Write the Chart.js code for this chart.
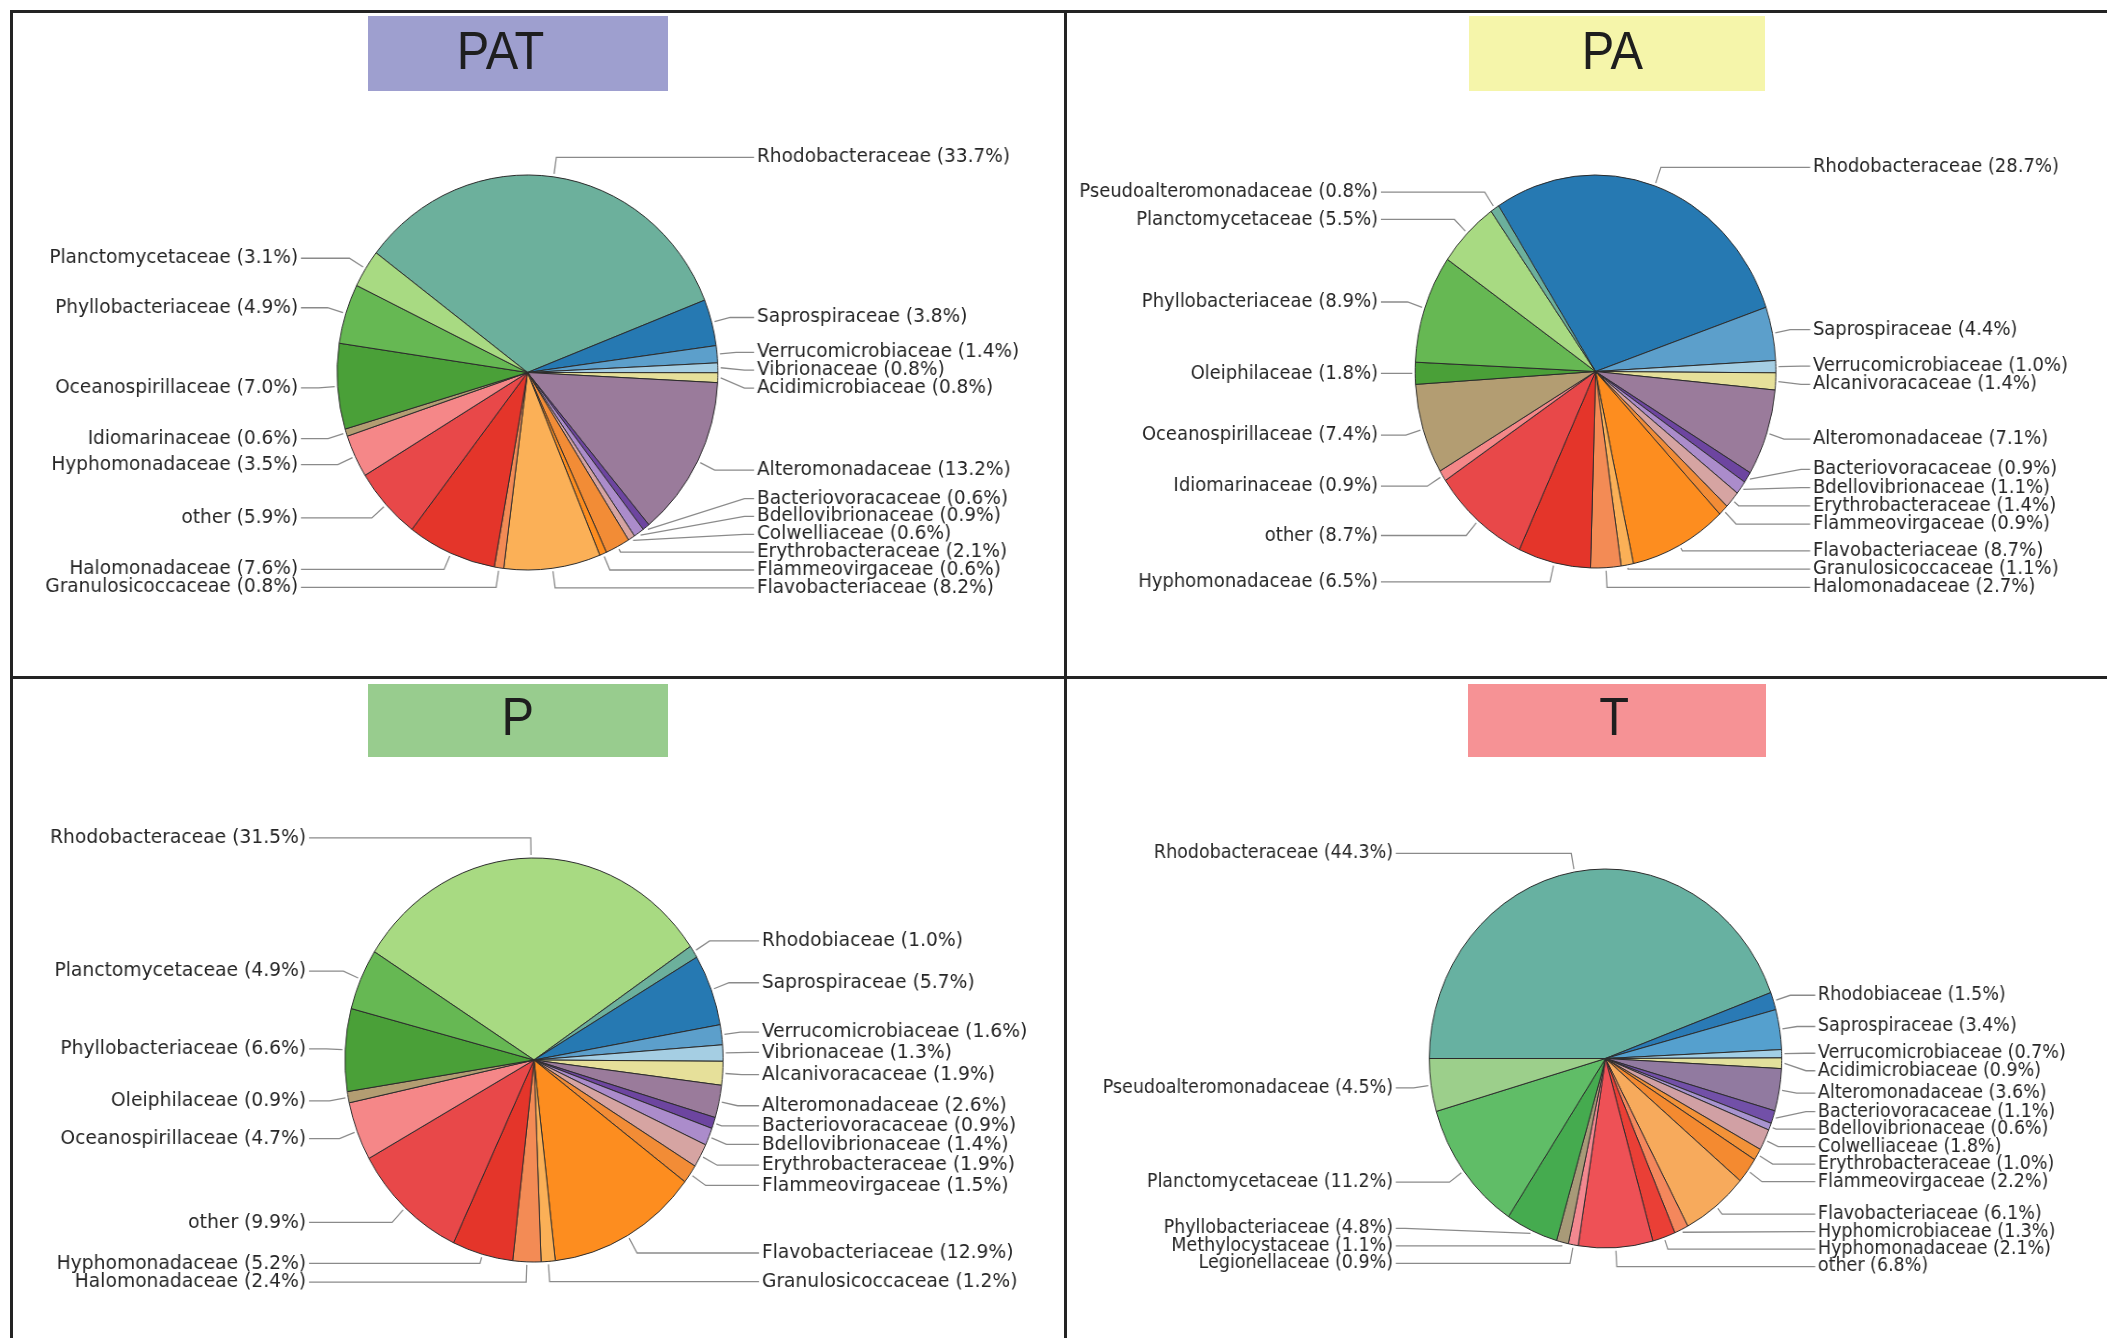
<!DOCTYPE html>
<html>
<head>
<meta charset="utf-8">
<script src="https://cdn.jsdelivr.net/npm/chart.js@4.4.1/dist/chart.umd.min.js"></script>
<style>
  body { margin: 0; background: #fff; }
  #page { position: relative; width: 2107px; height: 1338px; overflow: hidden; background: #fff; }
  .wrap { position: absolute; transform-origin: 0 0; }
  .line { position: absolute; background: #232323; }
  .tbox { position: absolute; display: flex; align-items: center; justify-content: center; }
  .tbox span { font-family: "Liberation Sans", Arial, sans-serif; font-size: 53px; color: #1e1e1e; display: inline-block; }
</style>
</head>
<body>
<div id="page"></div>
<script>
const patNames = ['Rhodobacteraceae', 'Saprospiraceae', 'Verrucomicrobiaceae', 'Vibrionaceae', 'Acidimicrobiaceae',
  'Alteromonadaceae', 'Bacteriovoracaceae', 'Bdellovibrionaceae', 'Colwelliaceae', 'Erythrobacteraceae',
  'Flammeovirgaceae', 'Flavobacteriaceae', 'Granulosicoccaceae', 'Halomonadaceae', 'other',
  'Hyphomonadaceae', 'Idiomarinaceae', 'Oceanospirillaceae', 'Phyllobacteriaceae', 'Planctomycetaceae'];
const patValues = [33.7, 3.8, 1.4, 0.8, 0.8, 13.2, 0.6, 0.9, 0.6, 2.1, 0.6, 8.2, 0.8, 7.6, 5.9, 3.5, 0.6, 7.0, 4.9, 3.1];

const paNames = ['Rhodobacteraceae', 'Saprospiraceae', 'Verrucomicrobiaceae', 'Alcanivoracaceae', 'Alteromonadaceae',
  'Bacteriovoracaceae', 'Bdellovibrionaceae', 'Erythrobacteraceae', 'Flammeovirgaceae', 'Flavobacteriaceae',
  'Granulosicoccaceae', 'Halomonadaceae', 'Hyphomonadaceae', 'other', 'Idiomarinaceae',
  'Oceanospirillaceae', 'Oleiphilaceae', 'Phyllobacteriaceae', 'Planctomycetaceae', 'Pseudoalteromonadaceae'];
const paValues = [28.7, 4.4, 1.0, 1.4, 7.1, 0.9, 1.1, 1.4, 0.9, 8.7, 1.1, 2.7, 6.5, 8.7, 0.9, 7.4, 1.8, 8.9, 5.5, 0.8];

const pNames = ['Rhodobacteraceae', 'Rhodobiaceae', 'Saprospiraceae', 'Verrucomicrobiaceae', 'Vibrionaceae',
  'Alcanivoracaceae', 'Alteromonadaceae', 'Bacteriovoracaceae', 'Bdellovibrionaceae', 'Erythrobacteraceae',
  'Flammeovirgaceae', 'Flavobacteriaceae', 'Granulosicoccaceae', 'Halomonadaceae', 'Hyphomonadaceae',
  'other', 'Oceanospirillaceae', 'Oleiphilaceae', 'Phyllobacteriaceae', 'Planctomycetaceae'];
const pValues = [31.5, 1.0, 5.7, 1.6, 1.3, 1.9, 2.6, 0.9, 1.4, 1.9, 1.5, 12.9, 1.2, 2.4, 5.2, 9.9, 4.7, 0.9, 6.6, 4.9];

const tNames = ['Rhodobacteraceae', 'Rhodobiaceae', 'Saprospiraceae', 'Verrucomicrobiaceae', 'Acidimicrobiaceae',
  'Alteromonadaceae', 'Bacteriovoracaceae', 'Bdellovibrionaceae', 'Colwelliaceae', 'Erythrobacteraceae',
  'Flammeovirgaceae', 'Flavobacteriaceae', 'Hyphomicrobiaceae', 'Hyphomonadaceae', 'other',
  'Legionellaceae', 'Methylocystaceae', 'Phyllobacteriaceae', 'Planctomycetaceae', 'Pseudoalteromonadaceae'];
const tValues = [44.3, 1.5, 3.4, 0.7, 0.9, 3.6, 1.1, 0.6, 1.8, 1.0, 2.2, 6.1, 1.3, 2.1, 6.8, 0.9, 1.1, 4.8, 11.2, 4.5];

const panelTitles = ['PAT', 'PA', 'P', 'T'];

// colores
const palette = ['#a8da82', '#6cb09c', '#2679b2', '#5c9fcb', '#a5cee3', '#e6e09a', '#9a7b9b', '#6d45a0', '#ab8ccb', '#d6a4a2',
  '#f28c36', '#fd8d1f', '#fbb057', '#f38b55', '#e4352a', '#e84849', '#f58788', '#b39d72', '#4aa038', '#66b853'];
const paletteT = ['#9ccf8b', '#67b1a1', '#2a7ab5', '#55a0ce', '#a2cfe6', '#e2e09c', '#917aa0', '#7250a8', '#a894d0', '#d1a0a4',
  '#f39238', '#f48a30', '#f7aa5c', '#f4875c', '#ea3f36', '#ee5156', '#f38890', '#a89a78', '#45ab4f', '#60bd67'];

function shift(pal, off, n) {
  const out = [];
  for (let i = 0; i < n; i++) out.push(pal[(i + off) % pal.length]);
  return out;
}

const panels = [
  { names: patNames, values: patValues, pal: palette, off: 1, qx: 0, qy: 0, qw: 1066, qh: 679,
    sx: 0.964, cx: 527.5, cy: 372.5, r: 197.5, rot: -52.7, fs: 19.2,
    box: [368, 16, 300, 75, '#9e9fcf'], tdx: -17, tdy: -3 },
  { names: paNames, values: paValues, pal: palette, off: 2, qx: 1066, qy: 0, qw: 1041, qh: 679,
    sx: 0.918, cx: 1595.5, cy: 371.5, r: 196.5, rot: -32.5, fs: 19.6,
    box: [1469, 16, 296, 75, '#f5f5aa'], tdx: -5, tdy: -3 },
  { names: pNames, values: pValues, pal: palette, off: 0, qx: 0, qy: 679, qw: 1066, qh: 659,
    sx: 0.936, cx: 534, cy: 1060, r: 202, rot: -57.6, fs: 20,
    box: [368, 684, 300, 73, '#98cc8e'], tdx: 0, tdy: -4 },
  { names: tNames, values: tValues, pal: paletteT, off: 1, qx: 1066, qy: 679, qw: 1041, qh: 659,
    sx: 0.93, cx: 1605.5, cy: 1058.5, r: 189.5, rot: -90, fs: 18.8,
    box: [1468, 684, 298, 73, '#f69295'], tdx: -3, tdy: -4 }
];

// etiquetas afuera con lineas guia
const outLabels = {
  id: 'outLabels',
  afterDraw(chart, args, opts) {
    const ctx = chart.ctx;
    const meta = chart.getDatasetMeta(0);
    const names = chart.data.labels;
    const vals = chart.data.datasets[0].data;
    const fs = opts.fontSize;
    const gap = fs * 0.93;

    const items = meta.data.map((arc, i) => {
      const mid = (arc.startAngle + arc.endAngle) / 2;
      const R = arc.outerRadius;
      return {
        i, mid, R, cx: arc.x, cy: arc.y,
        side: Math.cos(mid) >= 0 ? 1 : -1,
        y: arc.y + 1.1 * R * Math.sin(mid)
      };
    });

    // mitad de arriba se empuja hacia abajo, mitad de abajo hacia arriba
    [1, -1].forEach(side => {
      const list = items.filter(d => d.side === side).sort((a, b) => a.y - b.y);
      if (!list.length) return;
      const cy = list[0].cy;
      const up = list.filter(d => d.y < cy);
      const lo = list.filter(d => d.y >= cy);
      for (let k = 1; k < up.length; k++) up[k].y = Math.max(up[k].y, up[k - 1].y + gap);
      for (let k = lo.length - 2; k >= 0; k--) lo[k].y = Math.min(lo[k].y, lo[k + 1].y - gap);
      const all = up.concat(lo);
      for (let k = 1; k < all.length; k++) all[k].y = Math.max(all[k].y, all[k - 1].y + gap);
    });

    ctx.save();
    ctx.strokeStyle = '#8a8a8a';
    ctx.lineWidth = 1.3;
    ctx.font = fs + 'px "DejaVu Sans"';
    ctx.fillStyle = '#262626';
    ctx.textBaseline = 'middle';
    items.forEach(d => {
      const c = Math.cos(d.mid), s = Math.sin(d.mid);
      const ax = d.cx + d.side * 1.19 * d.R;
      const sx = d.cx + c * (d.R + 3), sy = d.cy + s * (d.R + 3);
      ctx.beginPath();
      ctx.moveTo(sx, sy);
      let ok = false;
      if (Math.abs(s) > 0.05) {
        const t = (d.y - sy) / s;
        const kx = sx + t * c;
        if (t >= 0 && (ax - kx) * d.side > 6) {
          ctx.lineTo(kx, d.y);
          ok = true;
        }
      }
      if (!ok) ctx.lineTo(ax - d.side * 10, d.y);
      ctx.lineTo(ax, d.y);
      ctx.stroke();
      ctx.textAlign = d.side > 0 ? 'left' : 'right';
      ctx.fillText(names[d.i] + ' (' + vals[d.i].toFixed(1) + '%)', ax + d.side * 3, d.y);
    });
    ctx.restore();
  }
};

const page = document.getElementById('page');

panels.forEach((p, n) => {
  const W = Math.round(p.qw / p.sx);
  const H = p.qh;
  const cxu = (p.cx - p.qx) / p.sx;
  const cyu = p.cy - p.qy;

  const wrap = document.createElement('div');
  wrap.className = 'wrap';
  wrap.style.left = p.qx + 'px';
  wrap.style.top = p.qy + 'px';
  wrap.style.width = W + 'px';
  wrap.style.height = H + 'px';
  wrap.style.transform = 'scaleX(' + p.sx + ')';
  const canvas = document.createElement('canvas');
  canvas.width = W;
  canvas.height = H;
  wrap.appendChild(canvas);
  page.appendChild(wrap);

  new Chart(canvas, {
    type: 'pie',
    data: {
      labels: p.names,
      datasets: [{
        data: p.values,
        backgroundColor: shift(p.pal, p.off, p.values.length),
        borderColor: '#2b2b2b',
        borderWidth: 1,
        hoverOffset: 0
      }]
    },
    options: {
      responsive: false,
      animation: false,
      events: [],
      rotation: p.rot,
      radius: p.r,
      layout: {
        padding: {
          left: cxu - p.r - 2,
          right: W - cxu - p.r - 2,
          top: cyu - p.r - 2,
          bottom: H - cyu - p.r - 2
        }
      },
      plugins: {
        legend: { display: false },
        tooltip: { enabled: false },
        outLabels: { fontSize: p.fs }
      }
    },
    plugins: [outLabels]
  });

  const b = document.createElement('div');
  b.className = 'tbox';
  b.style.left = p.box[0] + 'px';
  b.style.top = p.box[1] + 'px';
  b.style.width = p.box[2] + 'px';
  b.style.height = p.box[3] + 'px';
  b.style.background = p.box[4];
  const sp = document.createElement('span');
  sp.textContent = panelTitles[n];
  sp.style.transform = 'translate(' + p.tdx + 'px,' + p.tdy + 'px) scaleX(0.92)';
  b.appendChild(sp);
  page.appendChild(b);
});

// bordes del cuadro
[[10, 10, 2097, 3], [10, 10, 3, 1328], [1064, 10, 3, 1328], [10, 676, 2097, 3]].forEach(r => {
  const l = document.createElement('div');
  l.className = 'line';
  l.style.left = r[0] + 'px';
  l.style.top = r[1] + 'px';
  l.style.width = r[2] + 'px';
  l.style.height = r[3] + 'px';
  page.appendChild(l);
});
</script>
</body>
</html>
